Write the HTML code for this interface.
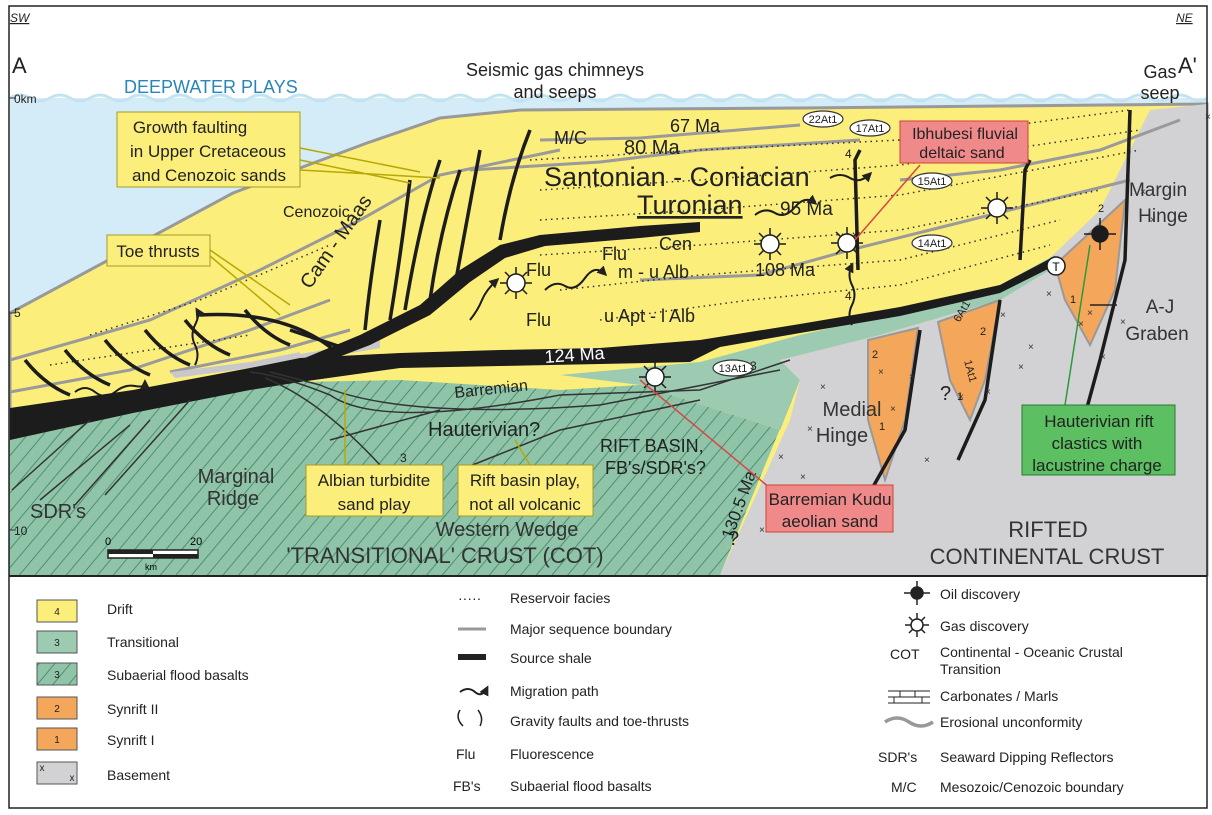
<!DOCTYPE html>
<html><head><meta charset="utf-8"><style>
html,body{margin:0;padding:0;background:#fff;}
svg{display:block;font-family:"Liberation Sans",sans-serif;}
</style></head><body>
<svg width="1212" height="815" viewBox="0 0 1212 815" xmlns="http://www.w3.org/2000/svg">
<defs>
<pattern id="hatch" width="12" height="12" patternUnits="userSpaceOnUse" patternTransform="rotate(40)">
<rect width="12" height="12" fill="#8fc4a8"/><line x1="0" y1="0" x2="0" y2="12" stroke="#4e8f72" stroke-width="2"/>
</pattern>
<marker id="ah" markerWidth="10" markerHeight="10" refX="7" refY="5" orient="auto" markerUnits="userSpaceOnUse"><path d="M0,0 L10,5 L0,10 z" fill="#222"/></marker>
</defs>
<rect x="0" y="0" width="1212" height="815" fill="#fff"/>
<rect x="10" y="98" width="1197" height="477" fill="#d3ecf7"/>
<path d="M10,98 Q20,92 30,98 T50,98 T70,98 T90,98 T110,98 T130,98 T150,98 T170,98 T190,98 T210,98 T230,98 T250,98 T270,98 T290,98 T310,98 T330,98 T350,98 T370,98 T390,98 T410,98 T430,98 T450,98 T470,98 T490,98 T510,98 T530,98 T550,98 T570,98 T590,98 T610,98 T630,98 T650,98 T670,98 T690,98 T710,98 T730,98 T750,98 T770,98 T790,98 T810,98 T830,98 T850,98 T870,98 T890,98 T910,98 T930,98 T950,98 T970,98 T990,98 T1010,98 T1030,98 T1050,98 T1070,98 T1090,98 T1110,98 T1130,98 T1150,98 T1170,98 T1190,98 T1207,98" fill="none" stroke="#c4e3f0" stroke-width="3"/>
<path d="M10,313 L233,193 L367,143 L440,118 L520,110 L800,108 L1000,106 L1207,104 L1207,575 L10,575 Z" fill="#fbee7a" stroke="#999" stroke-width="3"/>
<path d="M720,575 L790,420 L800,380 L780,360 L880,335 L1000,300 L1050,258 L1100,210 L1125,160 L1150,110 L1207,104 L1207,575 Z" fill="#d2d2d4"/>
<path d="M560,375 L700,362 L800,335 L900,312 L1000,285 L1055,255 L1050,270 L1000,300 L880,335 L780,360 L800,380 L780,430 L640,385 Z" fill="#9ccbb2"/>
<path d="M10,440 L133,413 L250,385 L300,382 L400,380 L560,390 L640,385 L780,430 L800,380 L720,575 L10,575 Z" fill="url(#hatch)"/>
<path d="M868,340 L918,328 L905,420 L885,480 L868,420 Z" fill="#f4a75a" stroke="#999" stroke-width="2"/>
<path d="M938,322 L1000,300 L985,380 L970,420 L950,380 Z" fill="#f4a75a" stroke="#999" stroke-width="2"/>
<path d="M1055,265 L1125,200 L1115,290 L1090,345 L1065,300 Z" fill="#f4a75a" stroke="#999" stroke-width="2"/>
<g fill="none" stroke="#9a9a9a" stroke-width="3">
<path d="M10,360 L150,320 L260,270 L360,220 L440,175 L560,150"/>
<path d="M10,392 L130,370 L250,330 L330,300"/>
<path d="M540,140 L640,138 L800,125"/>
<path d="M470,170 L600,162 L700,150 L860,140"/>
<path d="M640,280 L760,275 L850,250 L930,230 L1050,200 L1130,180"/>
<path d="M900,180 L1000,170 L1100,150 L1180,120"/>
<path d="M170,372 L280,350 L350,330"/>
</g>
<g fill="none" stroke="#333" stroke-width="1.5" stroke-dasharray="1.5,4">
<path d="M90,335 L200,300 L330,245"/>
<path d="M530,160 L700,150 L900,140 L1130,110"/>
<path d="M540,190 L700,180 L900,165 L1140,130"/>
<path d="M540,220 L700,210 L900,195 L1140,150"/>
<path d="M540,255 L700,245 L900,230 L1100,190"/>
<path d="M560,290 L700,275 L900,260 L1060,220"/>
<path d="M600,320 L750,300 L900,285 L1050,245"/>
<path d="M50,365 L150,350 L250,335"/>
</g>
<path d="M170,372 L250,362 L300,352 L300,358 L250,368 L175,378 Z" fill="#c8c8cc"/>
<path d="M295,355 L380,340 L380,348 L300,362 Z" fill="#c8c8cc"/>
<path d="M10,408 L133,390 L250,368 L300,358 L400,353 L500,350 L600,348 L700,340 L800,324 L900,307 L1000,285 L1055,256 L1050,268 L1000,293 L900,316 L800,333 L720,347 L690,362 L600,364 L500,366 L400,368 L300,382 L250,390 L133,413 L10,440 Z" fill="#1c1c1c"/>
<path d="M300,360 L360,335 L420,305 L460,270 L500,245 L540,235 L640,226 L700,222 L700,232 L640,238 L545,246 L505,258 L470,282 L430,315 L370,345 L310,368 Z" fill="#1c1c1c"/>
<g fill="none" stroke="#1c1c1c" stroke-width="3.5">
<path d="M405,310 Q420,220 440,160"/><path d="M430,300 Q440,230 460,170"/><path d="M455,285 Q465,230 480,150"/>
<path d="M390,320 Q400,260 410,180"/><path d="M365,330 Q370,280 380,220"/><path d="M500,240 Q510,180 530,130"/>
<path d="M858,270 L855,160 L860,150"/><path d="M1020,260 L1025,170 L1030,160"/>
<path d="M1130,110 L1125,260 L1100,360 L1085,415"/>
<path d="M920,330 L905,430 L860,510"/><path d="M1000,300 L985,400 L958,460"/>
<path d="M25,360 Q45,385 70,395"/><path d="M65,350 Q85,375 110,385"/><path d="M105,340 Q125,365 150,375"/>
<path d="M145,330 Q165,355 190,365"/><path d="M185,320 Q205,345 230,355"/><path d="M245,310 Q265,335 290,345"/>
<path d="M200,315 Q290,310 340,355"/>
<path d="M290,330 Q320,340 350,350"/>
</g>
<g fill="none" stroke="#333" stroke-width="1.5">
<path d="M250,372 Q280,375 330,395 Q380,430 560,395 L700,390 L790,360"/>
<path d="M270,372 L320,385 Q400,420 600,405 L780,370"/>
<path d="M265,378 Q320,400 380,465"/>
<path d="M12,490 L90,420"/><path d="M40,500 L130,425"/><path d="M75,505 L150,420"/><path d="M105,495 L190,400"/>
<path d="M330,440 L440,410"/><path d="M460,470 L560,430 L700,400"/>
</g>
<g fill="none" stroke="#1c1c1c" stroke-width="2" marker-end="url(#ah)">
<path d="M75,392 q10,-8 20,0 t20,0 t20,-6 t10,-4"/>
<path d="M195,365 q5,-10 0,-20 t0,-20 t2,-15"/>
<path d="M470,320 q8,-10 12,-20 t15,-20"/>
<path d="M545,290 q10,-10 20,-4 t20,-8 t20,-4"/>
<path d="M755,215 q10,-8 20,-2 t20,-6 t20,-4"/>
<path d="M852,325 q-5,-10 0,-20 t0,-20 t0,-20"/>
<path d="M830,178 q10,-6 20,0 t20,-4"/>
<path d="M940,135 q10,-4 18,-8"/>
</g>
<g stroke="#1c1c1c" stroke-width="1.5" fill="#fff">
<g transform="translate(516,283)"><circle r="9"/><path d="M0,-16 V-9 M0,9 V16 M-16,0 H-9 M9,0 H16 M-11,-11 L-6,-6 M11,11 L6,6 M-11,11 L-6,6 M11,-11 L6,-6"/></g>
<g transform="translate(770,244)"><circle r="9"/><path d="M0,-16 V-9 M0,9 V16 M-16,0 H-9 M9,0 H16 M-11,-11 L-6,-6 M11,11 L6,6 M-11,11 L-6,6 M11,-11 L6,-6"/></g>
<g transform="translate(847,243)"><circle r="9"/><path d="M0,-16 V-9 M0,9 V16 M-16,0 H-9 M9,0 H16 M-11,-11 L-6,-6 M11,11 L6,6 M-11,11 L-6,6 M11,-11 L6,-6"/></g>
<g transform="translate(997,208)"><circle r="9"/><path d="M0,-16 V-9 M0,9 V16 M-16,0 H-9 M9,0 H16 M-11,-11 L-6,-6 M11,11 L6,6 M-11,11 L-6,6 M11,-11 L6,-6"/></g>
<g transform="translate(655,377)"><circle r="9"/><path d="M0,-16 V-9 M0,9 V16 M-16,0 H-9 M9,0 H16 M-11,-11 L-6,-6 M11,11 L6,6 M-11,11 L-6,6 M11,-11 L6,-6"/></g>
</g>
<g transform="translate(1100,234)" stroke="#1c1c1c" stroke-width="1.5"><circle r="8" fill="#1c1c1c"/><path d="M0,-16 V16 M-16,0 H16"/></g>
<circle cx="1056" cy="266" r="9" fill="#fff" stroke="#1c1c1c" stroke-width="1.5"/><text x="1056" y="271" font-size="12" text-anchor="middle">T</text>
<g fill="#fff" stroke="#333" stroke-width="1.2">
<ellipse cx="823" cy="119" rx="20" ry="8"/><ellipse cx="870" cy="128" rx="20" ry="8"/><ellipse cx="932" cy="181" rx="20" ry="8"/>
<ellipse cx="932" cy="243" rx="20" ry="8"/><ellipse cx="733" cy="368" rx="20" ry="8"/>
</g>
<g font-size="11" text-anchor="middle" fill="#222">
<text x="823" y="123">22At1</text><text x="870" y="132">17At1</text><text x="932" y="185">15At1</text><text x="932" y="247">14At1</text><text x="733" y="372">13At1</text>
<text x="965" y="313" transform="rotate(-60 965 313)">6At1</text><text x="967" y="372" transform="rotate(75 967 372)">1At1</text>
</g>
<g font-size="10" fill="#333">
<text x="1140" y="195">×</text><text x="1150" y="223">×</text><text x="1046" y="297">×</text><text x="1087" y="316">×</text><text x="1000" y="318">×</text>
<text x="1078" y="327">×</text><text x="1028" y="350">×</text><text x="1100" y="360">×</text><text x="1120" y="325">×</text><text x="820" y="390">×</text>
<text x="807" y="432">×</text><text x="878" y="375">×</text><text x="909" y="380">×</text><text x="1018" y="370">×</text><text x="958" y="400">×</text>
<text x="924" y="463">×</text><text x="778" y="460">×</text><text x="890" y="412">×</text><text x="985" y="395">×</text><text x="800" y="480">×</text><text x="759" y="533">×</text><text x="1205" y="120">×</text>
</g>
<rect x="9" y="6" width="1198" height="802" fill="none" stroke="#222" stroke-width="1.5"/>
<line x1="9" y1="576" x2="1207" y2="576" stroke="#222" stroke-width="2"/>
<line x1="9" y1="98" x2="16" y2="98" stroke="#333"/><line x1="9" y1="313" x2="16" y2="313" stroke="#333"/><line x1="9" y1="530" x2="16" y2="530" stroke="#333"/>
<g fill="#222">
<text x="10" y="22" font-size="12" font-style="italic" text-decoration="underline">SW</text>
<text x="1176" y="22" font-size="12" font-style="italic" text-decoration="underline">NE</text>
<text x="12" y="73" font-size="22">A</text><text x="1178" y="73" font-size="22">A'</text>
<text x="14" y="103" font-size="12">0km</text><text x="14" y="317" font-size="12">5</text><text x="14" y="535" font-size="12">10</text>
<text x="124" y="93" font-size="18" fill="#2a86b8">DEEPWATER PLAYS</text>
<text x="555" y="76" font-size="18" text-anchor="middle">Seismic gas chimneys</text>
<text x="555" y="98" font-size="18" text-anchor="middle">and seeps</text>
<text x="1160" y="78" font-size="18" text-anchor="middle">Gas</text><text x="1160" y="99" font-size="18" text-anchor="middle">seep</text>
<text x="554" y="144" font-size="18">M/C</text><text x="670" y="132" font-size="18">67 Ma</text>
<text x="624" y="154" font-size="20">80 Ma</text>
<text x="544" y="186" font-size="27">Santonian - Coniacian</text>
<text x="637" y="214" font-size="27" text-decoration="underline">Turonian</text><text x="780" y="215" font-size="19">95 Ma</text>
<text x="659" y="250" font-size="18">Cen</text><text x="602" y="260" font-size="18">Flu</text><text x="526" y="276" font-size="18">Flu</text>
<text x="618" y="278" font-size="18">m - u Alb</text><text x="755" y="276" font-size="18">108 Ma</text>
<text x="526" y="326" font-size="18">Flu</text><text x="604" y="322" font-size="18">u Apt - l Alb</text>
<text x="545" y="363" font-size="18" fill="#fff" transform="rotate(-4 545 363)">124 Ma</text>
<text x="455" y="398" font-size="16" transform="rotate(-6 455 398)">Barremian</text>
<text x="428" y="436" font-size="20">Hauterivian?</text><text x="400" y="462" font-size="12">3</text>
<text x="600" y="452" font-size="18">RIFT BASIN,</text><text x="605" y="474" font-size="18">FB's/SDR's?</text>
<text x="732" y="540" font-size="17" transform="rotate(-70 732 540)">130.5 Ma</text>
<text x="236" y="483" font-size="20" text-anchor="middle" fill="#333">Marginal</text><text x="233" y="505" font-size="20" text-anchor="middle" fill="#333">Ridge</text>
<text x="30" y="518" font-size="20" fill="#333">SDR's</text>
<text x="507" y="536" font-size="20" text-anchor="middle" fill="#333">Western Wedge</text>
<text x="445" y="563" font-size="22" text-anchor="middle" fill="#333">'TRANSITIONAL' CRUST (COT)</text>
<text x="728" y="545" font-size="20">?</text><text x="940" y="400" font-size="20">?</text>
<text x="852" y="416" font-size="20" text-anchor="middle" fill="#333">Medial</text><text x="842" y="442" font-size="20" text-anchor="middle" fill="#333">Hinge</text>
<text x="1158" y="196" font-size="19" text-anchor="middle" fill="#333">Margin</text><text x="1163" y="222" font-size="19" text-anchor="middle" fill="#333">Hinge</text>
<text x="1160" y="313" font-size="19" text-anchor="middle" fill="#333">A-J</text><text x="1157" y="340" font-size="19" text-anchor="middle" fill="#333">Graben</text>
<text x="1048" y="537" font-size="22" text-anchor="middle" fill="#333">RIFTED</text>
<text x="1047" y="564" font-size="22" text-anchor="middle" fill="#333">CONTINENTAL CRUST</text>
<text x="283" y="217" font-size="16">Cenozoic</text>
<text x="310" y="290" font-size="20" transform="rotate(-55 310 290)">Cam - Maas</text>
<text x="845" y="158" font-size="12">4</text><text x="845" y="300" font-size="12">4</text><text x="750" y="370" font-size="12">3</text>
<text x="872" y="358" font-size="11">2</text><text x="879" y="430" font-size="11">1</text><text x="980" y="335" font-size="11">2</text><text x="957" y="400" font-size="11">1</text>
<text x="1098" y="212" font-size="11">2</text><text x="1070" y="303" font-size="11">1</text>
</g>
<g stroke="#b8a800" stroke-width="1.5" fill="none">
<path d="M300,148 L420,172 M300,160 L410,183 M300,170 L440,178"/>
<path d="M210,250 L290,305 M210,256 L280,315"/>
<path d="M345,390 L345,465"/><path d="M515,440 L530,465"/>
</g>
<path d="M640,380 L770,488" stroke="#d94444" stroke-width="1.5"/>
<path d="M855,240 L920,165" stroke="#d94444" stroke-width="1.5"/>
<path d="M1090,245 L1065,405" stroke="#2a9a3a" stroke-width="1.5"/>
<line x1="1090" y1="305" x2="1117" y2="305" stroke="#222" stroke-width="1.5"/>
<g font-size="17" fill="#222" text-anchor="middle">
<rect x="117" y="112" width="183" height="75" fill="#fbee7a" stroke="#a49b2a"/>
<text x="190" y="133">Growth faulting</text><text x="208" y="157">in Upper Cretaceous</text><text x="209" y="181">and Cenozoic sands</text>
<rect x="107" y="235" width="103" height="31" fill="#fbee7a" stroke="#a49b2a"/><text x="158" y="257">Toe thrusts</text>
<rect x="306" y="465" width="137" height="51" fill="#fbee7a" stroke="#a49b2a"/><text x="374" y="486">Albian turbidite</text><text x="374" y="510">sand play</text>
<rect x="458" y="465" width="135" height="51" fill="#fbee7a" stroke="#a49b2a"/><text x="525" y="486">Rift basin play,</text><text x="525" y="510">not all volcanic</text>
<rect x="900" y="121" width="128" height="42" fill="#f08a8a" stroke="#c43"/><text x="965" y="139" font-size="16">Ibhubesi fluvial</text><text x="962" y="158" font-size="16">deltaic sand</text>
<rect x="766" y="485" width="127" height="47" fill="#f08a8a" stroke="#c43"/><text x="830" y="505">Barremian Kudu</text><text x="830" y="527">aeolian sand</text>
<rect x="1022" y="405" width="153" height="70" fill="#5cbf62" stroke="#2a7a33"/><text x="1099" y="427">Hauterivian rift</text><text x="1097" y="449">clastics with</text><text x="1097" y="471">lacustrine charge</text>
</g>
<rect x="108" y="550" width="90" height="8" fill="#fff" stroke="#222" stroke-width="1.5"/><rect x="108" y="550" width="45" height="4" fill="#222"/><rect x="153" y="554" width="45" height="4" fill="#222"/>
<text x="105" y="545" font-size="11">0</text><text x="190" y="545" font-size="11">20</text><text x="145" y="570" font-size="9">km</text>
<g font-size="14" fill="#222">
<g font-size="10" text-anchor="middle">
<rect x="37" y="600" width="40" height="22" fill="#fbee7a" stroke="#555"/><text x="57" y="615">4</text>
<rect x="37" y="631" width="40" height="22" fill="#9ccbb2" stroke="#555"/><text x="57" y="646">3</text>
<rect x="37" y="663" width="40" height="22" fill="url(#hatch)" stroke="#555"/><text x="57" y="678">3</text>
<rect x="37" y="697" width="40" height="22" fill="#f4a75a" stroke="#555"/><text x="57" y="712">2</text>
<rect x="37" y="728" width="40" height="22" fill="#f4a75a" stroke="#555"/><text x="57" y="743">1</text>
<rect x="37" y="762" width="40" height="22" fill="#d2d2d4" stroke="#555"/><text x="42" y="771">x</text><text x="72" y="781">x</text>
</g>
<text x="107" y="614">Drift</text><text x="107" y="647">Transitional</text><text x="107" y="680">Subaerial flood basalts</text>
<text x="107" y="714">Synrift II</text><text x="107" y="745">Synrift I</text><text x="107" y="780">Basement</text>
<text x="458" y="603">·····</text>
<line x1="458" y1="629" x2="486" y2="629" stroke="#999" stroke-width="3"/>
<rect x="458" y="654" width="28" height="6" fill="#222"/>
<path d="M460,692 q8,-6 15,0 t12,-4" stroke="#222" stroke-width="2" fill="none" marker-end="url(#ah)"/>
<path d="M460,710 q-5,8 3,16 M478,710 q6,8 2,16" stroke="#222" stroke-width="1.5" fill="none"/>
<text x="456" y="759">Flu</text><text x="453" y="791">FB's</text>
<text x="510" y="603">Reservoir facies</text><text x="510" y="634">Major sequence boundary</text><text x="510" y="663">Source shale</text>
<text x="510" y="696">Migration path</text><text x="510" y="726">Gravity faults and toe-thrusts</text><text x="510" y="759">Fluorescence</text><text x="510" y="791">Subaerial flood basalts</text>
<g transform="translate(917,593)" stroke="#222" stroke-width="1.5"><circle r="6" fill="#222"/><path d="M0,-12 V12 M-13,0 H13"/></g>
<g transform="translate(917,625)" stroke="#222" stroke-width="1.5" fill="#fff"><circle r="6"/><path d="M0,-12 V-6 M0,6 V12 M-12,0 H-6 M6,0 H12 M-8,-8 L-4,-4 M8,8 L4,4 M-8,8 L-4,4 M8,-8 L4,-4"/></g>
<text x="890" y="659">COT</text>
<path d="M888,691 H930 M888,697 H930 M888,703 H930 M900,691 V697 M915,691 V697 M894,697 V703 M922,697 V703" stroke="#222" stroke-width="1"/>
<path d="M885,722 q12,-8 24,0 t24,0" stroke="#999" stroke-width="3.5" fill="none"/>
<text x="878" y="762">SDR's</text><text x="891" y="792">M/C</text>
<text x="940" y="599">Oil discovery</text><text x="940" y="631">Gas discovery</text>
<text x="940" y="657">Continental - Oceanic Crustal</text><text x="940" y="674">Transition</text>
<text x="940" y="701">Carbonates / Marls</text><text x="940" y="727">Erosional unconformity</text>
<text x="940" y="762">Seaward Dipping Reflectors</text><text x="940" y="792">Mesozoic/Cenozoic boundary</text>
</g>
</svg>
</body></html>
